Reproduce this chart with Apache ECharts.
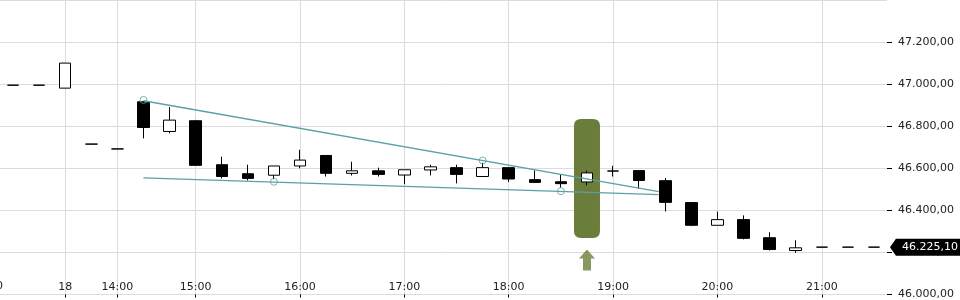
<!DOCTYPE html>
<html>
<head>
<meta charset="utf-8">
<script src="https://cdn.jsdelivr.net/npm/echarts@6/dist/echarts.min.js"></script>
<style>
  html, body { margin: 0; padding: 0; background: #fff; }
  #chart { width: 960px; height: 300px; }
</style>
</head>
<body>
<div id="chart"></div>
<script>
// ---- data ----
const xLabels = ['', '', '18', '', '14:00', '', '', '15:00', '', '', '', '16:00', '', '', '', '17:00', '', '', '', '18:00', '', '', '', '19:00', '', '', '', '20:00', '', '', '', '21:00', '', ''];
const openVals  = [46995, 46995, 46981, 46715, 46692, 46916, 46775, 46826, 46617, 46574, 46567, 46611, 46661, 46576, 46588, 46568, 46592, 46603, 46561, 46603, 46546, 46536, 46535, 46587, 46589, 46541, 46437, 46329, 46356, 46270, 46209, 46225.1, 46225.1, 46225.1];
const closeVals = [46995, 46995, 47100, 46715, 46692, 46794, 46829, 46614, 46561, 46552, 46611, 46639, 46576, 46588, 46571, 46593, 46607, 46571, 46603, 46549, 46533, 46527, 46578, 46587, 46542, 46438, 46329, 46356, 46267, 46214, 46222, 46225.1, 46225.1, 46225.1];
const lowVals   = [46995, 46995, 46981, 46715, 46692, 46742, 46766, 46614, 46552, 46542, 46548, 46600, 46561, 46566, 46561, 46524, 46566, 46528, 46561, 46535, 46533, 46508, 46519, 46561, 46502, 46395, 46325, 46329, 46262, 46209, 46198, 46225.1, 46225.1, 46225.1];
const highVals  = [46995, 46995, 47100, 46715, 46692, 46920, 46891, 46830, 46655, 46617, 46611, 46688, 46661, 46631, 46603, 46593, 46617, 46617, 46626, 46605, 46590, 46570, 46589, 46612, 46589, 46554, 46437, 46394, 46376, 46296, 46258, 46225.1, 46225.1, 46225.1];
const lastPrice = 46225.1;
const upperTrend = [[5, 46921], [24.75, 46489]];
const lowerTrend = [[5, 46554], [24.75, 46475]];
const pivots = [[5, 46925], [10, 46536], [18, 46637], [21, 46491]];
const highlightBar = [[22, 46551]];
const signalArrow = [[22, 46164]];
const yMin = 46000, yMax = 47400, yStep = 200;

// ---- helpers ----
const FONT = 'DejaVu Sans';
function fmt(v) {
  const s = Number(v).toFixed(2);
  const parts = s.split('.');
  return parts[0].replace(/\B(?=(\d{3})+(?!\d))/g, '.') + ',' + parts[1];
}
const labeled = (i, v) => v !== '';
const candleData = openVals.map((o, i) => [o, closeVals[i], lowVals[i], highVals[i]]);
const TEAL = '#5aa0a5';
const GREEN = '#6b7d3a';
const GRID = '#dcdcdc';

const chart = echarts.init(document.getElementById('chart'), null, { renderer: 'canvas' });
chart.setOption({
  animation: false,
  backgroundColor: '#fff',
  grid: { left: 0, right: 73, top: 0, bottom: 5, containLabel: false },
  graphic: [{
    type: 'text', left: -4, top: 281, silent: true,
    style: { text: '0', fill: '#222', font: '11px "DejaVu Sans"' }
  }],
  xAxis: [{
    type: 'category',
    data: xLabels,
    boundaryGap: true,
    axisLine: { show: true, onZero: false, lineStyle: { color: GRID, width: 1 } },
    axisTick: { show: true, alignWithLabel: true, interval: labeled, length: 3, lineStyle: { color: '#000' } },
    axisLabel: { inside: true, interval: 0, margin: 2, color: '#222', fontSize: 11, fontFamily: FONT },
    splitLine: { show: true, alignWithLabel: true, interval: labeled, lineStyle: { color: GRID, width: 1 } }
  }, {
    type: 'value', min: -0.5, max: xLabels.length - 0.5, show: false,
    axisLine: { onZero: false },
    splitLine: { show: false }
  }],
  yAxis: {
    type: 'value', position: 'right', min: yMin, max: yMax, interval: yStep,
    axisLine: { show: false, onZero: false },
    axisTick: { show: true, length: 5, lineStyle: { color: '#000' } },
    axisLabel: { margin: 11, color: '#222', fontSize: 11, fontFamily: FONT, formatter: fmt, showMaxLabel: false },
    splitLine: { show: true, lineStyle: { color: GRID, width: 1 } }
  },
  series: [{
    type: 'scatter', name: 'highlight', xAxisIndex: 0, z: 1, silent: true,
    data: highlightBar,
    symbol: 'path://M7,0 L19,0 Q26,0 26,7 L26,112 Q26,119 19,119 L7,119 Q0,119 0,112 L0,7 Q0,0 7,0 Z',
    symbolSize: [26, 119], symbolKeepAspect: false,
    itemStyle: { color: GREEN, opacity: 1 }
  }, {
    type: 'candlestick', name: 'price', xAxisIndex: 0, z: 2, barWidth: 12,
    data: candleData,
    itemStyle: { color: '#fff', color0: '#000', borderColor: '#000', borderColor0: '#000', borderWidth: 1 },
    emphasis: { disabled: true },
    markPoint: {
      silent: true, z: 6, animation: false,
      data: [{
        coord: [xLabels.length - 1, lastPrice],
        symbol: 'path://M0,8 L6,0 L74,0 L74,16 L6,16 Z',
        symbolSize: [74, 17],
        symbolOffset: [53, 0],
        symbolKeepAspect: false,
        itemStyle: { color: '#000' },
        label: { show: true, position: 'inside', offset: [3, 0], color: '#fff', fontSize: 11, fontFamily: FONT, formatter: () => fmt(lastPrice) }
      }]
    }
  }, {
    type: 'line', name: 'upper', xAxisIndex: 1, z: 3, silent: true,
    data: upperTrend, symbol: 'none', lineStyle: { color: TEAL, width: 1.3 }
  }, {
    type: 'line', name: 'lower', xAxisIndex: 1, z: 3, silent: true,
    data: lowerTrend, symbol: 'none', lineStyle: { color: TEAL, width: 1.3 }
  }, {
    type: 'scatter', name: 'pivots', xAxisIndex: 0, z: 4, silent: true,
    data: pivots, symbol: 'circle', symbolSize: 7,
    itemStyle: { color: 'rgba(255,255,255,0)', borderColor: TEAL, borderWidth: 1 }
  }, {
    type: 'scatter', name: 'arrow', xAxisIndex: 0, z: 4, silent: true,
    data: signalArrow, symbol: 'path://M8,0 L16,9 L12,9 L12,21 L4,21 L4,9 L0,9 Z', symbolSize: [16, 21],
    symbolKeepAspect: false,
    itemStyle: { color: GREEN }
  }]
});
</script>
</body>
</html>
